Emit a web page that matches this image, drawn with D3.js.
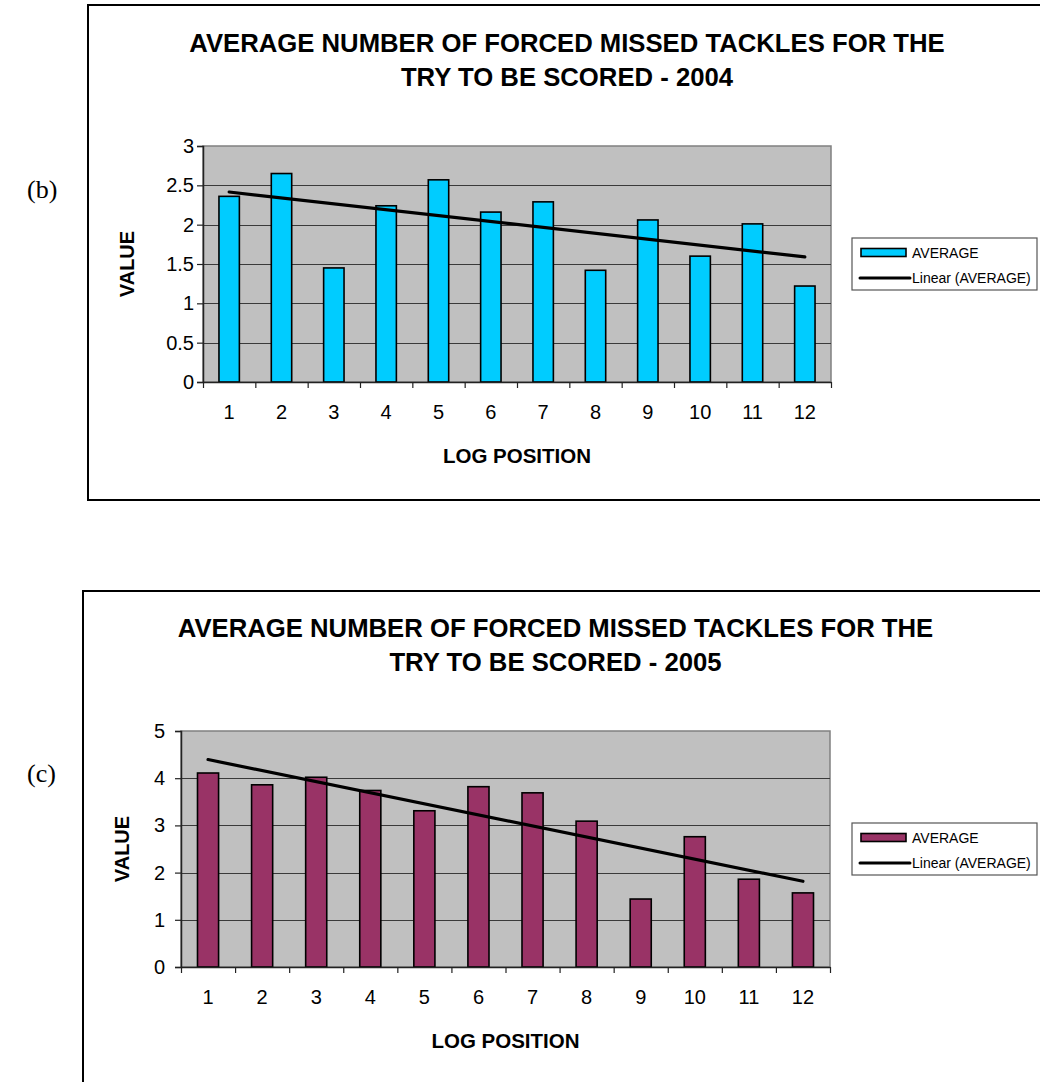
<!DOCTYPE html>
<html>
<head>
<meta charset="utf-8">
<script src="https://cdn.jsdelivr.net/npm/d3@7/dist/d3.min.js"></script>
<style>
  html, body { margin: 0; padding: 0; background: #fff; }
  svg { display: block; }
  text { font-family: "Liberation Sans", Arial, sans-serif; }
</style>
</head>
<body>
<svg id="page" width="1040" height="1082"></svg>
<script>
// Log positions on the x axis
const positions = ["1", "2", "3", "4", "5", "6", "7", "8", "9", "10", "11", "12"];

// Average forced missed tackles per try, by log position
const average2004 = [2.36, 2.65, 1.45, 2.24, 2.57, 2.16, 2.29, 1.42, 2.06, 1.60, 2.01, 1.22];
const average2005 = [4.11, 3.86, 4.02, 3.74, 3.31, 3.82, 3.69, 3.09, 1.44, 2.76, 1.86, 1.57];

// Value axis ticks
const ticks2004 = [0, 0.5, 1, 1.5, 2, 2.5, 3];
const ticks2005 = [0, 1, 2, 3, 4, 5];

const titles2004 = ["AVERAGE NUMBER OF FORCED MISSED TACKLES FOR THE", "TRY TO BE SCORED - 2004"];
const titles2005 = ["AVERAGE NUMBER OF FORCED MISSED TACKLES FOR THE", "TRY TO BE SCORED - 2005"];

const seriesName = "AVERAGE";
const trendName = "Linear (AVERAGE)";
const xTitle = "LOG POSITION";
const yTitle = "VALUE";

const svg = d3.select("#page");

// Ordinary least squares fit over positions 1..n
function linearFit(values) {
  const xs = values.map((_, i) => i + 1);
  const mx = d3.mean(xs), my = d3.mean(values);
  const sxy = d3.sum(xs, (x, i) => (x - mx) * (values[i] - my));
  const sxx = d3.sum(xs, x => (x - mx) * (x - mx));
  const slope = sxy / sxx;
  return x => my + slope * (x - mx);
}

function drawChart(cfg) {
  const g = svg.append("g");
  const { plot } = cfg;

  // outer chart frame
  g.append("rect")
    .attr("x", cfg.frame.x).attr("y", cfg.frame.y)
    .attr("width", cfg.frame.w).attr("height", cfg.frame.h)
    .attr("fill", "none").attr("stroke", "#000").attr("stroke-width", 2);

  // panel tag on the left
  g.append("text")
    .attr("x", 27).attr("y", cfg.tagY)
    .style("font-family", "'Liberation Serif', 'Times New Roman', serif")
    .style("font-size", "26px")
    .text(cfg.tag);

  // title
  const cx = (plot.left + plot.right) / 2 + 50;
  cfg.titles.forEach((t, i) => {
    g.append("text")
      .attr("x", cx).attr("y", plot.top - 94 + i * 34)
      .attr("text-anchor", "middle")
      .style("font-size", "25.7px").style("font-weight", "bold")
      .text(t);
  });

  const x = d3.scaleBand().domain(positions).range([plot.left, plot.right]).padding(0);
  const xEdge = d3.scaleLinear().domain([0.5, positions.length + 0.5]).range([plot.left, plot.right]);
  const y = d3.scaleLinear().domain(d3.extent(cfg.ticks)).range([plot.bottom, plot.top]);

  // plot area
  g.append("rect")
    .attr("x", plot.left).attr("y", plot.top)
    .attr("width", plot.right - plot.left).attr("height", plot.bottom - plot.top)
    .attr("fill", "#c0c0c0").attr("stroke", "#808080").attr("stroke-width", 1.5);

  // horizontal gridlines
  g.append("g").selectAll("line")
    .data(cfg.ticks.slice(1, -1))
    .join("line")
    .attr("x1", plot.left).attr("x2", plot.right)
    .attr("y1", d => Math.round(y(d)) + 0.5).attr("y2", d => Math.round(y(d)) + 0.5)
    .attr("stroke", "#3a3a3a").attr("stroke-width", 1);

  // bars
  const barW = x.bandwidth() * 0.39;
  g.append("g").selectAll("rect")
    .data(cfg.values)
    .join("rect")
    .attr("x", (d, i) => x(positions[i]) + (x.bandwidth() - barW) / 2)
    .attr("y", d => y(d))
    .attr("width", barW)
    .attr("height", d => y(0) - y(d))
    .attr("fill", cfg.color)
    .attr("stroke", "#000").attr("stroke-width", 1.6);

  // linear trend line
  const fit = linearFit(cfg.values);
  const n = positions.length;
  g.append("line")
    .attr("x1", x(positions[0]) + x.bandwidth() / 2)
    .attr("y1", y(fit(1)))
    .attr("x2", x(positions[n - 1]) + x.bandwidth() / 2)
    .attr("y2", y(fit(n)))
    .attr("stroke", "#000").attr("stroke-width", 3.2).attr("stroke-linecap", "round");

  // value axis
  const yAxis = g.append("g")
    .attr("transform", `translate(${plot.left},0)`)
    .call(d3.axisLeft(y).tickValues(cfg.ticks).tickSize(6).tickPadding(cfg.yPad).tickFormat(d => String(d)));
  yAxis.select(".domain").attr("stroke", "#222").attr("stroke-width", 1.5);
  yAxis.selectAll(".tick line").attr("stroke", "#222").attr("stroke-width", 1.2);
  yAxis.selectAll(".tick text")
    .attr("fill", "#000")
    .style("font-size", "20px")
    .style("font-family", "'Liberation Sans', Arial, sans-serif");

  // category axis: tick marks between categories
  const xTicks = g.append("g")
    .attr("transform", `translate(0,${plot.bottom})`)
    .call(d3.axisBottom(xEdge)
      .tickValues(d3.range(0.5, positions.length + 1, 1))
      .tickSize(6).tickSizeOuter(0).tickFormat(""));
  xTicks.select(".domain").attr("stroke", "#222").attr("stroke-width", 1.5);
  xTicks.selectAll(".tick line").attr("stroke", "#222").attr("stroke-width", 1.2);

  // category labels centred on bars
  const xLabels = g.append("g")
    .attr("transform", `translate(0,${plot.bottom})`)
    .call(d3.axisBottom(x).tickSize(0).tickPadding(23));
  xLabels.select(".domain").remove();
  xLabels.selectAll(".tick text")
    .attr("fill", "#000")
    .style("font-size", "20px")
    .style("font-family", "'Liberation Sans', Arial, sans-serif");

  // axis titles
  g.append("text")
    .attr("x", (plot.left + plot.right) / 2).attr("y", plot.bottom + 81)
    .attr("text-anchor", "middle")
    .style("font-size", "20.5px").style("font-weight", "bold")
    .text(xTitle);

  g.append("text")
    .attr("transform", `translate(${cfg.frame.x + 46},${(plot.top + plot.bottom) / 2}) rotate(-90)`)
    .attr("text-anchor", "middle")
    .style("font-size", "20px").style("font-weight", "bold")
    .text(yTitle);

  // legend
  const lx = 852, ly = (plot.top + plot.bottom) / 2 - 26;
  const lg = g.append("g").attr("transform", `translate(${lx},${ly})`);
  lg.append("rect")
    .attr("x", 0).attr("y", 0).attr("width", 185).attr("height", 52)
    .attr("fill", "#fff").attr("stroke", "#555").attr("stroke-width", 1.2);
  lg.append("rect")
    .attr("x", 9).attr("y", 10.5).attr("width", 45).attr("height", 8)
    .attr("fill", cfg.color).attr("stroke", "#000").attr("stroke-width", 1.6);
  lg.append("text")
    .attr("x", 60).attr("y", 19.5)
    .style("font-size", "14px")
    .text(seriesName);
  lg.append("line")
    .attr("x1", 8).attr("x2", 58).attr("y1", 40).attr("y2", 40)
    .attr("stroke", "#000").attr("stroke-width", 3).attr("stroke-linecap", "round");
  lg.append("text")
    .attr("x", 60).attr("y", 45)
    .style("font-size", "14px")
    .text(trendName);
}

drawChart({
  tag: "(b)", tagY: 198,
  frame: { x: 88, y: 5, w: 980, h: 495 },
  plot: { left: 203, top: 146, right: 831, bottom: 382 },
  values: average2004, ticks: ticks2004, titles: titles2004,
  color: "#00ccff", yPad: 3
});

drawChart({
  tag: "(c)", tagY: 782,
  frame: { x: 83, y: 591, w: 990, h: 520 },
  plot: { left: 181, top: 731, right: 830, bottom: 967 },
  values: average2005, ticks: ticks2005, titles: titles2005,
  color: "#993366", yPad: 10
});
</script>
</body>
</html>
